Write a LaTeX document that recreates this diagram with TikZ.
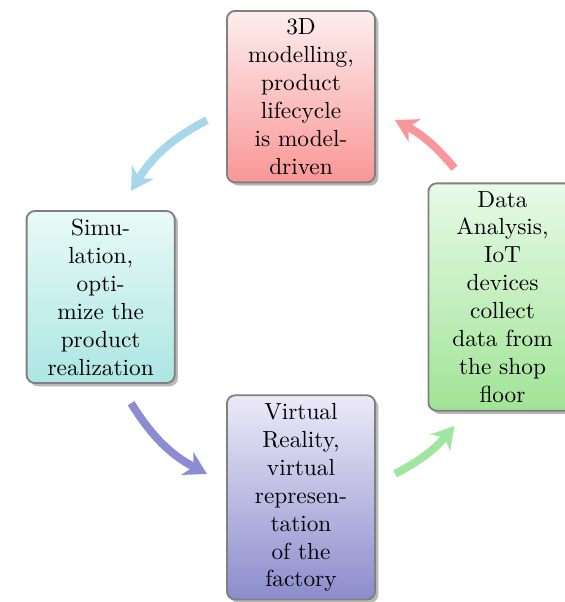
\documentclass[tikz,border=0pt]{standalone}
\usetikzlibrary{arrows.meta,shadows}
\definecolor{modtopA}{RGB}{253,238,238}
\definecolor{modbotA}{RGB}{250,150,150}
\definecolor{modtopB}{RGB}{232,250,246}
\definecolor{modbotB}{RGB}{172,230,228}
\definecolor{modtopC}{RGB}{236,234,248}
\definecolor{modbotC}{RGB}{140,140,205}
\definecolor{modtopD}{RGB}{232,250,232}
\definecolor{modbotD}{RGB}{160,228,150}
\definecolor{arrA}{RGB}{168,214,234}
\definecolor{arrB}{RGB}{140,140,210}
\definecolor{arrC}{RGB}{160,230,160}
\definecolor{arrD}{RGB}{250,150,155}
\begin{document}
\begin{tikzpicture}[font=\normalsize, line join=round,
	module/.style={rectangle, rounded corners=3.5pt, draw=gray, line width=0.8pt,
		text width=2cm, align=center, inner sep=3.33pt,
		drop shadow={shadow xshift=1.4pt, shadow yshift=-1.4pt, fill=gray!70, opacity=0.8}},
	cyc/.style={line width=3.4pt, line cap=butt, -{Stealth[length=9.5pt,width=11pt,inset=3pt]}}]
			\useasboundingbox (-129.2pt,-130.9pt) rectangle (113.3pt,127.5pt);
			\node[module, top color=modtopA, bottom color=modbotA] (model) at (90:86pt)
				{3D\\modelling,\\product\\lifecycle\\is model-\\driven};
			\node[module, top color=modtopB, bottom color=modbotB] (simu) at (180:86pt)
				{Simu-\\lation,\\opti-\\mize the\\product\\realization};
			\node[module, top color=modtopC, bottom color=modbotC] (vr) at (270:86pt)
				{Virtual\\Reality,\\virtual\\represen-\\tation\\of the\\factory};
			\node[module, top color=modtopD, bottom color=modbotD] (data) at (0:86.5pt)
				{Data\\Analysis,\\IoT\\devices\\collect\\data from\\the shop\\floor};
			\coordinate (a1) at (118:86pt);
			\coordinate (a2) at (148:86pt);
			\coordinate (b1) at (212:86pt);
			\coordinate (b2) at (242:86pt);
			\coordinate (c1) at (298:86pt);
			\coordinate (c2) at (320:86pt);
			\coordinate (d1) at (40:86pt);
			\coordinate (d2) at (62:86pt);
			\draw[cyc, arrA] (a1) to[bend right=15] (a2);
			\draw[cyc, arrB] (b1) to[bend right=15] (b2);
			\draw[cyc, arrC] (c1) to[bend right=11] (c2);
			\draw[cyc, arrD] (d1) to[bend right=11] (d2);
		\end{tikzpicture}
\end{document}
